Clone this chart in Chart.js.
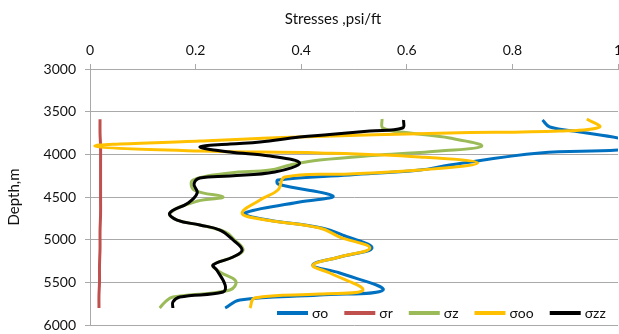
<!DOCTYPE html>
<html>
<head>
<meta charset="utf-8">
<script src="https://cdn.jsdelivr.net/npm/chart.js@4.4.1/dist/chart.umd.min.js"></script>
<style>
html,body{margin:0;padding:0;background:#fff;}
#wrap{width:619px;height:334px;position:relative;}
</style>
</head>
<body>
<div id="wrap"><canvas id="c" width="619" height="334"></canvas></div>
<script>
// ---- data ----
const xTicks = [0, 0.2, 0.4, 0.6, 0.8, 1];
const yTicks = [3000, 3500, 4000, 4500, 5000, 5500, 6000];
const seriesNames = ['σo', 'σr', 'σz', 'σoo', 'σzz'];

const sigmaO_depth = [3598, 3680, 3738, 3809, 3891, 3950, 3984, 4125, 4184, 4242, 4301, 4348, 4488, 4559, 4688, 4758, 4863, 4957, 5098, 5203, 5297, 5391, 5590, 5649, 5707, 5801];
const sigmaO_value = [0.857, 0.871, 0.928, 1.001, 1.06, 1.001, 0.852, 0.681, 0.625, 0.492, 0.356, 0.356, 0.460, 0.397, 0.293, 0.326, 0.439, 0.483, 0.534, 0.473, 0.422, 0.473, 0.555, 0.435, 0.284, 0.256];

const sigmaR_depth = [3590, 3750, 3900, 4100, 4300, 4500, 4700, 4900, 5100, 5300, 5500, 5650, 5801];
const sigmaR_value = [0.019, 0.019, 0.020, 0.020, 0.020, 0.020, 0.020, 0.019, 0.019, 0.018, 0.018, 0.017, 0.017];

const sigmaZ_depth = [3586, 3692, 3750, 3809, 3903, 3961, 4008, 4067, 4125, 4184, 4219, 4301, 4418, 4500, 4547, 4688, 4770, 4828, 4910, 5004, 5121, 5203, 5297, 5379, 5485, 5590, 5672, 5731, 5801];
const sigmaZ_value = [0.553, 0.555, 0.606, 0.681, 0.742, 0.662, 0.549, 0.435, 0.379, 0.341, 0.265, 0.195, 0.197, 0.252, 0.204, 0.151, 0.165, 0.208, 0.256, 0.274, 0.290, 0.271, 0.233, 0.246, 0.276, 0.265, 0.157, 0.142, 0.132];

const sigmaOO_depth = [3586, 3680, 3727, 3750, 3797, 3844, 3902, 3961, 3984, 4031, 4102, 4184, 4231, 4266, 4418, 4535, 4688, 4758, 4863, 4969, 5098, 5203, 5297, 5391, 5590, 5637, 5684, 5801];
const sigmaOO_value = [0.941, 0.965, 0.890, 0.681, 0.397, 0.208, 0.009, 0.208, 0.435, 0.625, 0.734, 0.625, 0.492, 0.369, 0.356, 0.322, 0.288, 0.322, 0.435, 0.473, 0.530, 0.473, 0.422, 0.454, 0.517, 0.435, 0.312, 0.303];

const sigmaZZ_depth = [3598, 3692, 3727, 3768, 3797, 3856, 3880, 3914, 3973, 4020, 4102, 4207, 4254, 4277, 4348, 4453, 4570, 4688, 4770, 4828, 4887, 5004, 5121, 5203, 5297, 5356, 5532, 5614, 5672, 5731, 5801];
const sigmaZZ_value = [0.594, 0.592, 0.530, 0.454, 0.397, 0.322, 0.265, 0.208, 0.265, 0.341, 0.397, 0.350, 0.265, 0.208, 0.197, 0.203, 0.186, 0.151, 0.165, 0.208, 0.246, 0.271, 0.288, 0.271, 0.233, 0.240, 0.256, 0.252, 0.170, 0.157, 0.157];

const colors = ['#0070C0', '#C0504D', '#9BBB59', '#FFC000', '#000000'];

function pts(vals, depths) { return vals.map((v, i) => ({x: v, y: depths[i]})); }

const seriesData = [
  pts(sigmaO_value, sigmaO_depth),
  pts(sigmaR_value, sigmaR_depth),
  pts(sigmaZ_value, sigmaZ_depth),
  pts(sigmaOO_value, sigmaOO_depth),
  pts(sigmaZZ_value, sigmaZZ_depth)
];
const drawOrder = [5, 4, 3, 2, 1];

const FONT = 'Lato, "Open Sans", sans-serif';
const TXT = '#111111';
const GRID = '#a9a9a9';

const extras = {
  id: 'extras',
  afterDraw(chart) {
    const ctx = chart.ctx;
    ctx.save();
    ctx.fillStyle = TXT;
    ctx.font = '15px ' + FONT;
    ctx.textAlign = 'center';
    ctx.textBaseline = 'middle';
    ctx.fillText('Stresses ,psi/ft', 333, 19);
    ctx.font = '14px ' + FONT;
    ctx.textAlign = 'left';
    let x = 277;
    const y = 313;
    chart.data.datasets.forEach(ds => {
      ctx.strokeStyle = ds.borderColor;
      ctx.lineWidth = 4;
      ctx.beginPath();
      ctx.moveTo(x, y);
      ctx.lineTo(x + 31, y);
      ctx.stroke();
      x += 35;
      ctx.fillStyle = TXT;
      ctx.fillText(ds.label, x, y);
      x += ctx.measureText(ds.label).width + 16;
    });
    ctx.restore();
  }
};

new Chart(document.getElementById('c'), {
  type: 'scatter',
  data: {
    datasets: seriesNames.map((n, i) => ({
      label: n,
      data: seriesData[i],
      showLine: true,
      borderColor: colors[i],
      backgroundColor: colors[i],
      borderWidth: 3,
      pointRadius: 0,
      pointHoverRadius: 0,
      tension: 0.4,
      fill: false,
      clip: 0,
      order: drawOrder[i]
    }))
  },
  options: {
    responsive: false,
    animation: false,
    events: [],
    layout: { padding: { left: 0, right: 1, top: 0, bottom: 9 } },
    plugins: { legend: { display: false }, tooltip: { enabled: false }, title: { display: false } },
    scales: {
      x: {
        type: 'linear',
        position: 'top',
        min: 0, max: 1,
        afterBuildTicks: (s) => { s.ticks = xTicks.map(v => ({value: v})); },
        afterFit: (s) => { s.height = 69; s.paddingLeft = 0; s.paddingRight = 0; },
        ticks: {
          color: TXT,
          font: { family: FONT, size: 14 },
          padding: 5,
          maxRotation: 0,
          autoSkip: false,
          callback: (v) => String(Math.round(v * 10) / 10)
        },
        grid: { drawOnChartArea: false, drawTicks: true, tickLength: 5, color: GRID },
        border: { display: true, color: GRID, width: 1 }
      },
      y: {
        type: 'linear',
        reverse: true,
        min: 3000, max: 6000,
        afterBuildTicks: (s) => { s.ticks = yTicks.map(v => ({value: v})); },
        afterFit: (s) => { s.width = 90; s.paddingTop = 0; s.paddingBottom = 0; },
        ticks: {
          color: TXT,
          font: { family: FONT, size: 14 },
          padding: 9,
          autoSkip: false,
          callback: (v) => String(v)
        },
        title: { display: true, text: 'Depth,m', color: TXT, font: { family: FONT, size: 15 }, padding: { top: 5, bottom: 0 } },
        grid: { drawOnChartArea: true, drawTicks: true, tickLength: 5, color: GRID },
        border: { display: true, color: GRID, width: 1 }
      }
    }
  },
  plugins: [extras]
});
</script>
</body>
</html>
